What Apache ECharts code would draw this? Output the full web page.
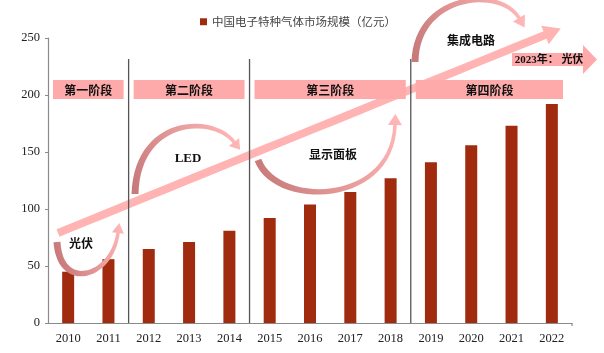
<!DOCTYPE html>
<html>
<head>
<meta charset="utf-8">
<script src="https://cdn.jsdelivr.net/npm/echarts@6/dist/echarts.min.js"></script>
<style>
  html, body { margin: 0; padding: 0; background: #fff; }
  #chart { width: 604px; height: 353px; }
</style>
</head>
<body>
<div id="chart"></div>
<script>
// 数据
var years = ['2010', '2011', '2012', '2013', '2014', '2015', '2016', '2017', '2018', '2019', '2020', '2021', '2022'];
var marketSize = [45, 56, 65, 71, 81, 92, 104, 115, 127, 141, 156, 173, 192];
var seriesName = '中国电子特种气体市场规模（亿元）';
var phaseNames = ['第一阶段', '第二阶段', '第三阶段', '第四阶段'];
var phaseStart = [0, 2, 5, 9]; // 每个阶段的第一个年份下标

var serif = '"Liberation Serif", "Times New Roman", "Noto Sans CJK SC", serif';
var cjk = '"Noto Sans CJK SC", sans-serif';

var chart = echarts.init(document.getElementById('chart'));

// 弯箭头：三次贝塞尔曲线 + 箭头
function curvedArrow(p0, c1, c2, p3, w0, w1, headW, headL) {
  function pt(t) {
    var a = (1 - t) * (1 - t) * (1 - t), b = 3 * (1 - t) * (1 - t) * t, c = 3 * (1 - t) * t * t, d = t * t * t;
    return [a * p0[0] + b * c1[0] + c * c2[0] + d * p3[0], a * p0[1] + b * c1[1] + c * c2[1] + d * p3[1]];
  }
  function tan(t) {
    var a = 3 * (1 - t) * (1 - t), b = 6 * (1 - t) * t, c = 3 * t * t;
    var x = a * (c1[0] - p0[0]) + b * (c2[0] - c1[0]) + c * (p3[0] - c2[0]);
    var y = a * (c1[1] - p0[1]) + b * (c2[1] - c1[1]) + c * (p3[1] - c2[1]);
    var l = Math.sqrt(x * x + y * y) || 1;
    return [x / l, y / l];
  }
  var left = [], right = [], n = 30;
  for (var i = 0; i <= n; i++) {
    var t = i / n, p = pt(t), d = tan(t), w = (w0 * (1 - t) + w1 * t) / 2;
    left.push([p[0] - d[1] * w, p[1] + d[0] * w]);
    right.push([p[0] + d[1] * w, p[1] - d[0] * w]);
  }
  var de = tan(1), h = headW / 2;
  var tip = [p3[0] + de[0] * headL, p3[1] + de[1] * headL];
  var pts = left.concat([
    [p3[0] - de[1] * h, p3[1] + de[0] * h],
    tip,
    [p3[0] + de[1] * h, p3[1] - de[0] * h]
  ]).concat(right.reverse());
  return { pts: pts, tip: tip };
}

function arrowGraphic(a, fromColor, toColor) {
  return {
    type: 'polygon',
    z: 5,
    shape: { points: a.pts },
    style: {
      fill: {
        type: 'linear', global: true,
        x: a.pts[0][0], y: a.pts[0][1], x2: a.tip[0], y2: a.tip[1],
        colorStops: [{ offset: 0, color: fromColor }, { offset: 1, color: toColor }]
      }
    }
  };
}

function label(text, x, y, font, size) {
  return {
    type: 'text', z: 10, x: x, y: y,
    style: {
      text: text, fill: '#111', font: 'bold ' + size + 'px ' + font,
      align: 'center', verticalAlign: 'middle'
    }
  };
}

chart.setOption({
  animation: false,
  grid: { left: 48, right: 32, top: 38, bottom: 30 },
  legend: {
    data: [seriesName],
    left: 195, top: 11,
    icon: 'rect', itemWidth: 7, itemHeight: 7, itemGap: 4,
    textStyle: { fontFamily: cjk, fontSize: 11.5, color: '#444' }
  },
  xAxis: {
    type: 'category',
    data: years,
    axisLine: { lineStyle: { color: '#8a8a8a', width: 1.2 } },
    axisTick: { show: false },
    axisLabel: { fontFamily: serif, fontSize: 12.5, color: '#222', margin: 9 }
  },
  yAxis: {
    type: 'value',
    min: 0, max: 250, interval: 50,
    splitLine: { show: false },
    axisLine: { show: true, lineStyle: { color: '#8a8a8a', width: 1.2 } },
    axisTick: { show: true, length: 3, lineStyle: { color: '#8a8a8a' } },
    axisLabel: { fontFamily: serif, fontSize: 12.5, color: '#222', margin: 8 }
  },
  series: [{
    name: seriesName,
    type: 'bar',
    data: marketSize,
    barWidth: 12,
    itemStyle: { color: '#A12B0E' },
    z: 3
  }]
});

// 阶段分隔线和阶段标签，位置取自坐标轴
var gridLeft = 48, gridRight = 604 - 32, axisY = chart.convertToPixel({ yAxisIndex: 0 }, 0);
function catX(i) { return chart.convertToPixel({ xAxisIndex: 0 }, i); }
var bounds = [gridLeft];
for (var k = 1; k < phaseStart.length; k++) {
  bounds.push((catX(phaseStart[k] - 1) + catX(phaseStart[k])) / 2);
}
bounds.push(gridRight);

var graphics = [];
for (var k = 1; k < phaseStart.length; k++) {
  graphics.push({
    type: 'line', z: 4,
    shape: { x1: bounds[k], y1: 59, x2: bounds[k], y2: axisY },
    style: { stroke: '#555', lineWidth: 1.3 }
  });
}
// x 轴末端小刻度
graphics.push({
  type: 'line', z: 4,
  shape: { x1: gridRight, y1: axisY, x2: gridRight, y2: axisY + 3 },
  style: { stroke: '#8a8a8a', lineWidth: 1.2 }
});
phaseNames.forEach(function (name, k) {
  var x0 = bounds[k] + 5, x1 = bounds[k + 1] - (k === phaseNames.length - 1 ? 9 : 5);
  graphics.push({
    type: 'rect', z: 6,
    shape: { x: x0, y: 80, width: x1 - x0, height: 19 },
    style: { fill: '#FFAAAA' }
  });
  graphics.push(label(name, (x0 + x1) / 2, 90, cjk, 12));
});

// 大斜箭头
var big = curvedArrow([58, 233], [200, 175], [400, 94], [545, 35], 8, 8, 20, 17);
graphics.push({ type: 'polygon', z: 2, shape: { points: big.pts }, style: { fill: '#FFA0A0', opacity: 0.8 } });

// 2023 箭头
graphics.push({
  type: 'polygon', z: 6,
  shape: { points: [[512, 53], [583, 53], [583, 45], [597, 59.5], [583, 74], [583, 66], [512, 66]] },
  style: { fill: '#FFAAAA' }
});
graphics.push(label('2023年： 光伏', 549, 60, serif, 11));

// 弯箭头
var dark = '#C97B7B', light = '#FFB6B6';
graphics.push(arrowGraphic(curvedArrow([57, 242], [60, 292], [112, 278], [118, 233], 7, 3.5, 12, 10), dark, light));
graphics.push(label('光伏', 81, 243, cjk, 12));
graphics.push(arrowGraphic(curvedArrow([135, 194], [137, 118], [212, 114], [234, 142], 7, 3.5, 13, 10), dark, light));
graphics.push(label('LED', 188, 159, serif, 13));
graphics.push(arrowGraphic(curvedArrow([258, 160], [276, 208], [392, 206], [395, 125], 7, 3.5, 14, 11), dark, light));
graphics.push(label('显示面板', 333, 154, cjk, 12));
graphics.push(arrowGraphic(curvedArrow([415, 62], [416, -6], [500, -14], [519, 18], 7, 3.5, 14, 11), dark, light));
graphics.push(label('集成电路', 471, 40, cjk, 12));

chart.setOption({ graphic: graphics });
</script>
</body>
</html>
